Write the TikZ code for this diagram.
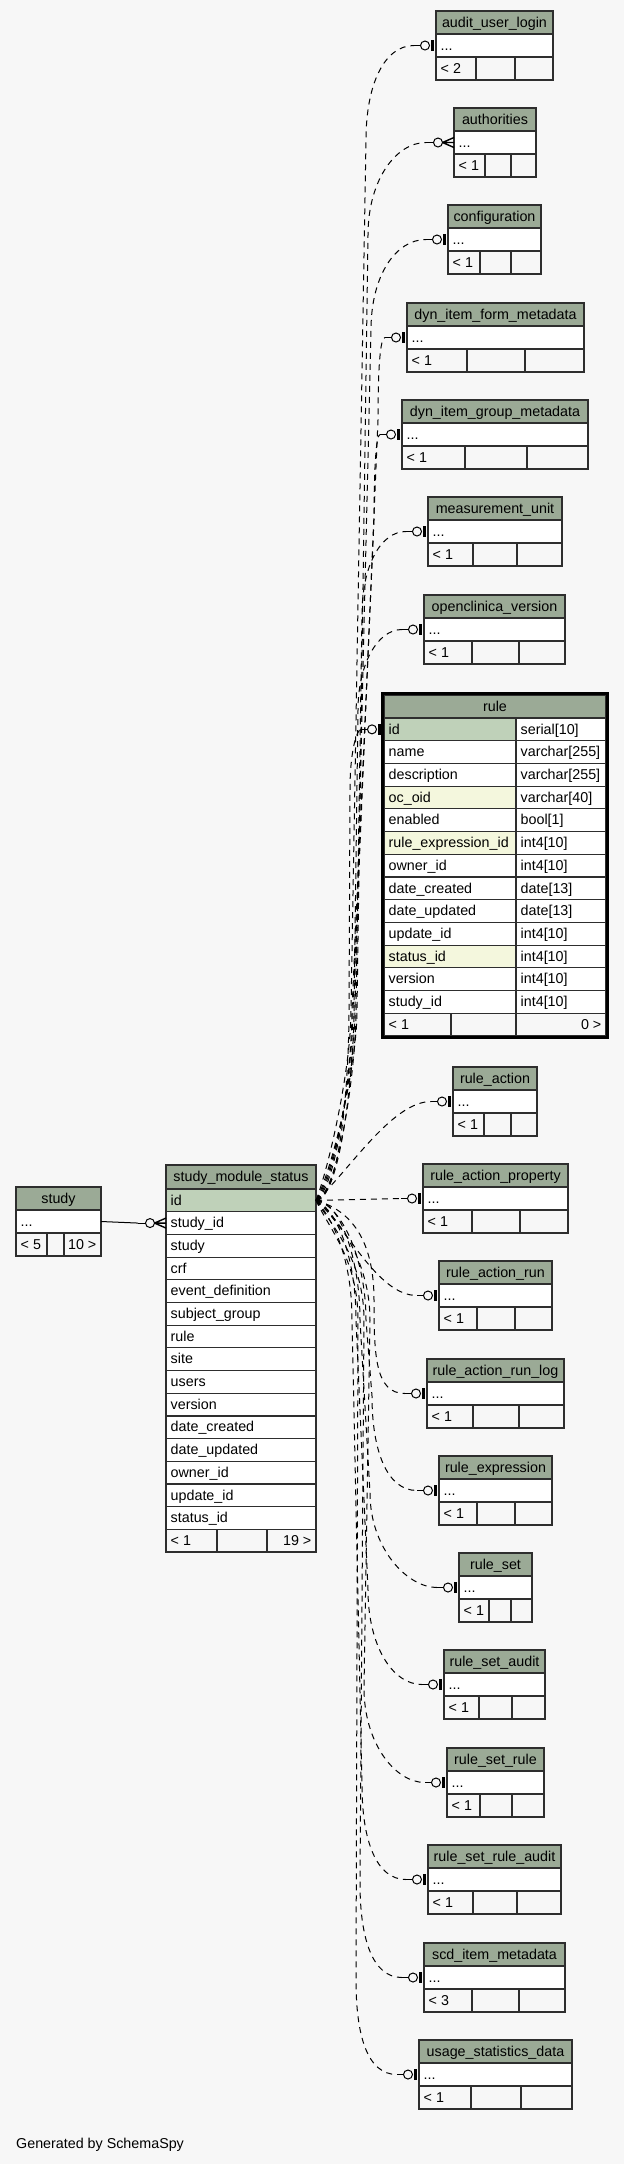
\documentclass[tikz,border=0pt]{standalone}
\usepackage{fontspec}
\setmainfont{Liberation Sans}
\definecolor{bgc}{HTML}{F7F7F7}
\definecolor{hdrc}{HTML}{9BAA96}
\definecolor{keyc}{HTML}{BFD1B9}
\definecolor{idxc}{HTML}{F4F7DD}
\definecolor{linec}{HTML}{2E2E2E}
\tikzset{
  txt/.style={inner sep=0pt, font=\fontsize{14.3}{16}\selectfont, text=black},
  cellbox/.style={draw=linec, line width=1.2pt, inner sep=0pt, outer sep=0pt, minimum height=22.7pt},
  hdr/.style={fill=hdrc, draw=linec, line width=1.2pt},
  foot/.style={fill=bgc, draw=linec, line width=1.2pt},
  fk/.style={draw=black, line width=1pt, dash pattern=on 6pt off 5pt},
  zeroone/.pic={
    \draw[line width=1pt] (-22,0) -- (-15.5,0);
    \draw[line width=1pt, fill=bgc] (-11,0) circle (4.5pt);
    \draw[line width=3pt] (-3.5,-5.5) -- (-3.5,5.5);
  },
  zeromany/.pic={
    \draw[line width=1pt] (-28,0) -- (-20.5,0);
    \draw[line width=1pt, fill=bgc] (-16,0) circle (4.5pt);
    \draw[line width=1.4pt] (-11.5,0) -- (0,-5) (-11.5,0) -- (0,5) (-11.5,0) -- (0,0);
  },
}
% one field cell: name, left, right, top, fill, text
\newcommand{\fld}[6]{%
  \node[cellbox, fill=#5, minimum width={(#3-#2)*1pt}, anchor=north west] (#1) at (#2,#4) {};
  \node[txt, anchor=base west] at (#2+4.5,#4+16) {#6};}
% collapsed table: name, title, left, right, top, div1, div2, footer
\newcommand{\tbl}[8]{%
  \draw[hdr] (#3,#5) rectangle (#4,#5+23);
  \node[txt, anchor=base] at ({(#3+#4)/2},#5+16) {#2};
  \node[cellbox, fill=white, minimum height=23pt, minimum width={(#4-#3)*1pt}, anchor=north west] (#1) at (#3,#5+23) {};
  \node[txt, anchor=base west] at (#3+4.5,#5+39) {...};
  \draw[foot] (#3,#5+46) rectangle (#4,#5+69);
  \draw[foot] (#6,#5+46) -- (#6,#5+69) (#7,#5+46) -- (#7,#5+69);
  \node[txt, anchor=base west] at (#3+4.5,#5+62) {#8};}
\begin{document}
\begin{tikzpicture}[x=1pt, y=-1pt]
    \useasboundingbox (0,0) rectangle (624,2164);
    \fill[bgc] (0,0) rectangle (624,2164);

    % tables on the right
    \tbl{aul}{audit\_user\_login}{436}{553}{11}{476}{515}{< 2}
    \tbl{auth}{authorities}{454}{536}{108}{485}{511}{< 1}
    \tbl{conf}{configuration}{448}{541}{205}{480}{511}{< 1}
    \tbl{difm}{dyn\_item\_form\_metadata}{407}{584}{303}{467}{525}{< 1}
    \tbl{digm}{dyn\_item\_group\_metadata}{402}{588}{400}{465}{527}{< 1}
    \tbl{mu}{measurement\_unit}{428}{562}{497}{473}{517}{< 1}
    \tbl{ocv}{openclinica\_version}{424}{565}{595}{472}{519}{< 1}
    \tbl{ra}{rule\_action}{453}{537}{1067}{484}{511}{< 1}
    \tbl{rap}{rule\_action\_property}{423}{568}{1164}{472}{520}{< 1}
    \tbl{rar}{rule\_action\_run}{439}{552}{1261}{477}{515}{< 1}
    \tbl{rarl}{rule\_action\_run\_log}{427}{564}{1359}{473}{519}{< 1}
    \tbl{re}{rule\_expression}{439}{552}{1456}{477}{515}{< 1}
    \tbl{rs}{rule\_set}{459}{532}{1553}{489}{511}{< 1}
    \tbl{rsa}{rule\_set\_audit}{444}{545}{1650}{479}{512}{< 1}
    \tbl{rsr}{rule\_set\_rule}{447}{544}{1748}{480}{512}{< 1}
    \tbl{rsra}{rule\_set\_rule\_audit}{428}{561}{1845}{473}{517}{< 1}
    \tbl{scd}{scd\_item\_metadata}{424}{565}{1943}{472}{519}{< 3}
    \tbl{usd}{usage\_statistics\_data}{419}{572}{2040}{471}{521}{< 1}

    % rule
    \draw[hdr] (384,695) rectangle (606,718);
    \node[txt, anchor=base] at (495,711) {rule};
    \fld{ruleid}{384}{516}{718.0}{keyc}{id}
    \fld{ruleidt}{516}{606}{718.0}{white}{serial[10]}
    \fld{rulename}{384}{516}{740.7}{white}{name}
    \fld{rulenamet}{516}{606}{740.7}{white}{varchar[255]}
    \fld{ruledesc}{384}{516}{763.4}{white}{description}
    \fld{ruledesct}{516}{606}{763.4}{white}{varchar[255]}
    \fld{ruleoid}{384}{516}{786.1}{idxc}{oc\_oid}
    \fld{ruleoidt}{516}{606}{786.1}{white}{varchar[40]}
    \fld{ruleen}{384}{516}{808.8}{white}{enabled}
    \fld{ruleent}{516}{606}{808.8}{white}{bool[1]}
    \fld{rulere}{384}{516}{831.6}{idxc}{rule\_expression\_id}
    \fld{ruleret}{516}{606}{831.6}{white}{int4[10]}
    \fld{ruleown}{384}{516}{854.3}{white}{owner\_id}
    \fld{ruleownt}{516}{606}{854.3}{white}{int4[10]}
    \fld{ruledc}{384}{516}{877.0}{white}{date\_created}
    \fld{ruledct}{516}{606}{877.0}{white}{date[13]}
    \fld{ruledu}{384}{516}{899.7}{white}{date\_updated}
    \fld{ruledut}{516}{606}{899.7}{white}{date[13]}
    \fld{ruleupd}{384}{516}{922.4}{white}{update\_id}
    \fld{ruleupdt}{516}{606}{922.4}{white}{int4[10]}
    \fld{rulest}{384}{516}{945.1}{idxc}{status\_id}
    \fld{rulestt}{516}{606}{945.1}{white}{int4[10]}
    \fld{rulever}{384}{516}{967.8}{white}{version}
    \fld{rulevert}{516}{606}{967.8}{white}{int4[10]}
    \fld{rulesid}{384}{516}{990.5}{white}{study\_id}
    \fld{rulesidt}{516}{606}{990.5}{white}{int4[10]}
    \draw[foot] (384,1013.2) rectangle (606,1035.9);
    \draw[foot] (451,1013.2) -- (451,1035.9) (516,1013.2) -- (516,1035.9);
    \node[txt, anchor=base west] at (388.5,1029.2) {< 1};
    \node[txt, anchor=base east] at (601.5,1029.2) {0 >};
    \draw[line width=3pt] (382.5,693.5) rectangle (607.5,1037.5);

    % study
    \draw[hdr] (16,1187) rectangle (101,1210);
    \node[txt, anchor=base] at (58.5,1203) {study};
    \node[cellbox, fill=white, minimum height=23pt, minimum width=85pt, anchor=north west] (studyrow) at (16,1210) {};
    \node[txt, anchor=base west] at (20.5,1226) {...};
    \draw[foot] (16,1233) rectangle (101,1256);
    \draw[foot] (47,1233) -- (47,1256) (64,1233) -- (64,1256);
    \node[txt, anchor=base west] at (20.5,1249) {< 5};
    \node[txt, anchor=base east] at (96.5,1249) {10 >};

    % study_module_status
    \draw[hdr] (166,1165) rectangle (316,1189);
    \node[txt, anchor=base] at (241,1181) {study\_module\_status};
    \fld{smsid}{166}{316}{1189.0}{keyc}{id}
    \fld{smsstudyid}{166}{316}{1211.7}{white}{study\_id}
    \fld{smsstudy}{166}{316}{1234.4}{white}{study}
    \fld{smscrf}{166}{316}{1257.1}{white}{crf}
    \fld{smsevent}{166}{316}{1279.8}{white}{event\_definition}
    \fld{smsgroup}{166}{316}{1302.5}{white}{subject\_group}
    \fld{smsrule}{166}{316}{1325.1}{white}{rule}
    \fld{smssite}{166}{316}{1347.8}{white}{site}
    \fld{smsusers}{166}{316}{1370.5}{white}{users}
    \fld{smsversion}{166}{316}{1393.2}{white}{version}
    \fld{smsdc}{166}{316}{1415.9}{white}{date\_created}
    \fld{smsdu}{166}{316}{1438.6}{white}{date\_updated}
    \fld{smsowner}{166}{316}{1461.3}{white}{owner\_id}
    \fld{smsupdate}{166}{316}{1484.0}{white}{update\_id}
    \fld{smsstatus}{166}{316}{1506.7}{white}{status\_id}
    \draw[foot] (166,1529.4) rectangle (316,1552);
    \draw[foot] (217,1529.4) -- (217,1552) (267,1529.4) -- (267,1552);
    \node[txt, anchor=base west] at (170.5,1545.4) {< 1};
    \node[txt, anchor=base east] at (311.5,1545.4) {19 >};

    % study -> study_module_status
    \draw[line width=1pt] (studyrow.east) -- ([xshift=-28pt]smsstudyid.west);
    \path (smsstudyid.west) pic {zeromany};

    % connectors going up
    \draw[fk] (smsid.east) .. controls +(12,-30) and +(0,60) .. (351,1010) -- (366,140) .. controls +(0,-55) and +(-30,0) .. ([xshift=-22pt]aul.west);
    \draw[fk] (smsid.east) .. controls +(14,-25) and +(0,60) .. (357,1010) -- (368,235) .. controls +(0,-55) and +(-30,0) .. ([xshift=-28pt]auth.west);
    \draw[fk] (smsid.east) .. controls +(16,-20) and +(0,60) .. (355,1010) -- (371,330) .. controls +(0,-55) and +(-30,0) .. ([xshift=-22pt]conf.west);
    \draw[fk] (smsid.east) .. controls +(18,-15) and +(0,60) .. (353,1010) -- (378,420) .. controls +(0,-50) and +(-5,0) .. ([xshift=-22pt]difm.west);
    \draw[fk] (smsid.east) .. controls +(20,-10) and +(0,60) .. (352,1010) -- (374,520) .. controls +(0,-50) and +(-4,0) .. ([xshift=-22pt]digm.west);
    \draw[fk] (smsid.east) .. controls +(22,-5) and +(0,60) .. (356,1010) -- (362,615) .. controls +(0,-50) and +(-25,0) .. ([xshift=-22pt]mu.west);
    \draw[fk] (smsid.east) .. controls +(24,0) and +(0,60) .. (354,1010) -- (358,710) .. controls +(0,-45) and +(-25,0) .. ([xshift=-22pt]ocv.west);
    \draw[fk] (smsid.east) .. controls +(26,-5) and +(0,60) .. (349,1010) -- (350,790) .. controls +(0,-40) and +(-4,0) .. ([xshift=-23pt]ruleid.west);
    \draw[fk] (smsid.east) .. controls +(30,-25) and +(-40,0) .. ([xshift=-22pt]ra.west);
    % straight across
    \draw[fk] (smsid.east) -- ([xshift=-22pt]rap.west);
    % connectors going down
    \draw[fk] (smsid.east) .. controls +(30,25) and +(-40,0) .. ([xshift=-22pt]rar.west);
    \draw[fk] (smsid.east) .. controls +(35,10) and +(0,-60) .. (374,1300) .. controls +(0,55) and +(-30,0) .. ([xshift=-22pt]rarl.west);
    \draw[fk] (smsid.east) .. controls +(26,5) and +(0,-60) .. (366,1320) -- (372,1396) .. controls +(0,55) and +(-30,0) .. ([xshift=-22pt]re.west);
    \draw[fk] (smsid.east) .. controls +(24,0) and +(0,-60) .. (360,1320) -- (370,1493) .. controls +(0,55) and +(-30,0) .. ([xshift=-22pt]rs.west);
    \draw[fk] (smsid.east) .. controls +(22,10) and +(0,-60) .. (356,1320) -- (368,1590) .. controls +(0,55) and +(-30,0) .. ([xshift=-22pt]rsa.west);
    \draw[fk] (smsid.east) .. controls +(20,15) and +(0,-60) .. (370,1320) -- (364,1688) .. controls +(0,55) and +(-30,0) .. ([xshift=-22pt]rsr.west);
    \draw[fk] (smsid.east) .. controls +(18,20) and +(0,-60) .. (352,1320) -- (362,1785) .. controls +(0,55) and +(-30,0) .. ([xshift=-22pt]rsra.west);
    \draw[fk] (smsid.east) .. controls +(16,25) and +(0,-60) .. (364,1320) -- (360,1883) .. controls +(0,55) and +(-30,0) .. ([xshift=-22pt]scd.west);
    \draw[fk] (smsid.east) .. controls +(14,30) and +(0,-60) .. (358,1320) -- (356,1980) .. controls +(0,55) and +(-30,0) .. ([xshift=-22pt]usd.west);

    % end marks
    \path (aul.west) pic {zeroone};
    \path (auth.west) pic {zeromany};
    \path (conf.west) pic {zeroone};
    \path (difm.west) pic {zeroone};
    \path (digm.west) pic {zeroone};
    \path (mu.west) pic {zeroone};
    \path (ocv.west) pic {zeroone};
    \path ([xshift=-1pt]ruleid.west) pic {zeroone};
    \path (ra.west) pic {zeroone};
    \path (rap.west) pic {zeroone};
    \path (rar.west) pic {zeroone};
    \path (rarl.west) pic {zeroone};
    \path (re.west) pic {zeroone};
    \path (rs.west) pic {zeroone};
    \path (rsa.west) pic {zeroone};
    \path (rsr.west) pic {zeroone};
    \path (rsra.west) pic {zeroone};
    \path (scd.west) pic {zeroone};
    \path (usd.west) pic {zeroone};

    \node[txt, anchor=base west] (credit) at (16,2148) {Generated by SchemaSpy};
\end{tikzpicture}
\end{document}
